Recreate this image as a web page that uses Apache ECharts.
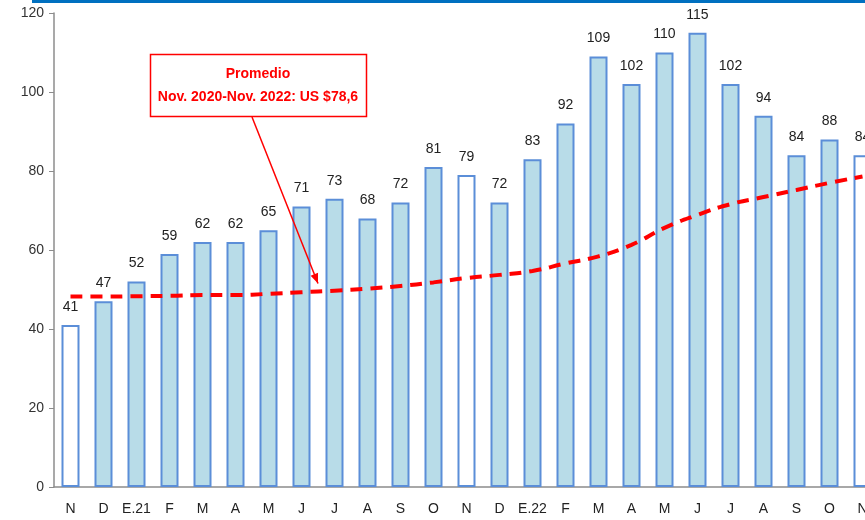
<!DOCTYPE html>
<html style="height: 100%; width: 100%">
  <head>
    <meta charset="utf-8" />
  </head>
  <body style="height: 100%; width: 100%; margin: 0">
    <div id="chart-panel" style="height: 520px; width: 865px"></div>
    <script
      type="text/javascript"
      src="https://cdn.jsdelivr.net/npm/echarts@6/dist/echarts.min.js"
    ></script>
    <script type="text/javascript">
      var months = ["N", "D", "E.21", "F", "M", "A", "M", "J", "J", "A", "S", "O",
        "N", "D", "E.22", "F", "M", "A", "M", "J", "J", "A", "S", "O", "N"];
      var prices = [41, 47, 52, 59, 62, 62, 65, 71, 73, 68, 72, 81,
        79, 72, 83, 92, 109, 102, 110, 115, 102, 94, 84, 88, 84];
      // running average line
      var average = [48.2, 48.2, 48.3, 48.4, 48.6, 48.6, 48.9, 49.3, 49.7, 50.2, 50.9, 51.8,
        52.9, 53.7, 54.7, 56.6, 58.4, 61.3, 65.6, 68.9, 71.6, 73.4, 75.2, 77, 78.6];
      // months shown as hollow bars (November of each year)
      var hollow = [0, 12, 24];
      var noteLines = ["Promedio", "Nov. 2020-Nov. 2022: US $78,6"];

      var dom = document.getElementById("chart-panel");
      var myChart = echarts.init(dom);

      var barData = prices.map(function (v, i) {
        var item = { value: v };
        if (hollow.indexOf(i) >= 0) {
          item.itemStyle = { color: "#ffffff" };
        }
        return item;
      });

      var option = {
        animation: false,
        textStyle: { fontFamily: "Liberation Sans, Arial, sans-serif" },
        // the last bar runs past the right edge of the picture
        grid: { left: 54, top: 13, bottom: 33, width: 825, outerBoundsMode: "none" },
        xAxis: {
          type: "category",
          data: months,
          axisLine: { lineStyle: { color: "#8c8c8c", width: 1.5 } },
          axisTick: { length: 5, lineStyle: { color: "#8c8c8c" } },
          axisLabel: { color: "#222", fontSize: 14, margin: 15, interval: 0 },
        },
        yAxis: {
          type: "value",
          min: 0,
          max: 120,
          interval: 20,
          splitLine: { show: false },
          axisLine: { show: true, lineStyle: { color: "#8c8c8c", width: 1.5 } },
          axisTick: { show: true, length: 5, lineStyle: { color: "#8c8c8c" } },
          axisLabel: { color: "#333", fontSize: 14, margin: 10 },
        },
        series: [
          {
            type: "bar",
            data: barData,
            barWidth: 18,
            itemStyle: {
              color: "#b8dce8",
              borderColor: "#5b8ed8",
              borderWidth: 2,
            },
            label: {
              show: true,
              position: "top",
              distance: 11,
              color: "#222",
              fontSize: 14,
            },
            z: 2,
          },
          {
            type: "line",
            data: average,
            smooth: true,
            symbol: "none",
            lineStyle: { color: "#ff0000", width: 4, type: [12, 8] },
            z: 3,
          },
        ],
      };
      myChart.setOption(option);

      // annotation box with arrow pointing between the two J bars, just above the line
      var p7 = myChart.convertToPixel({ xAxisIndex: 0, yAxisIndex: 0 }, [7, 51.5]);
      var p8 = myChart.convertToPixel({ xAxisIndex: 0, yAxisIndex: 0 }, [8, 51.5]);
      var tip = [(p7[0] + p8[0]) / 2, p7[1]];
      var start = [252, 117];
      function arrowHead() {
        var dx = tip[0] - start[0], dy = tip[1] - start[1];
        var len = Math.sqrt(dx * dx + dy * dy);
        var ux = dx / len, uy = dy / len;
        var bx = tip[0] - ux * 10, by = tip[1] - uy * 10;
        return {
          points: [
            [tip[0], tip[1]],
            [bx - uy * 4, by + ux * 4],
            [bx + uy * 4, by - ux * 4],
          ],
        };
      }
      myChart.setOption({
        graphic: [
          {
            type: "rect",
            shape: { x: 32, y: 0, width: 833, height: 3 },
            style: { fill: "#0070c0" },
          },
          {
            type: "rect",
            shape: { x: 150.5, y: 54.5, width: 216, height: 62 },
            style: { fill: "#ffffff", stroke: "#ff0000", lineWidth: 1.5 },
            z: 10,
          },
          {
            type: "text",
            x: 258,
            y: 74,
            style: {
              text: noteLines[0],
              fill: "#ff0000",
              font: "bold 14px Liberation Sans, Arial, sans-serif",
              align: "center",
              verticalAlign: "middle",
            },
            z: 11,
          },
          {
            type: "text",
            x: 258,
            y: 97,
            style: {
              text: noteLines[1],
              fill: "#ff0000",
              font: "bold 14px Liberation Sans, Arial, sans-serif",
              align: "center",
              verticalAlign: "middle",
            },
            z: 11,
          },
          {
            type: "line",
            shape: { x1: start[0], y1: start[1], x2: tip[0], y2: tip[1] },
            style: { stroke: "#ff0000", lineWidth: 1.5 },
            z: 11,
          },
          {
            type: "polygon",
            shape: arrowHead(),
            style: { fill: "#ff0000" },
            z: 11,
          },
        ],
      });
    </script>
  </body>
</html>
